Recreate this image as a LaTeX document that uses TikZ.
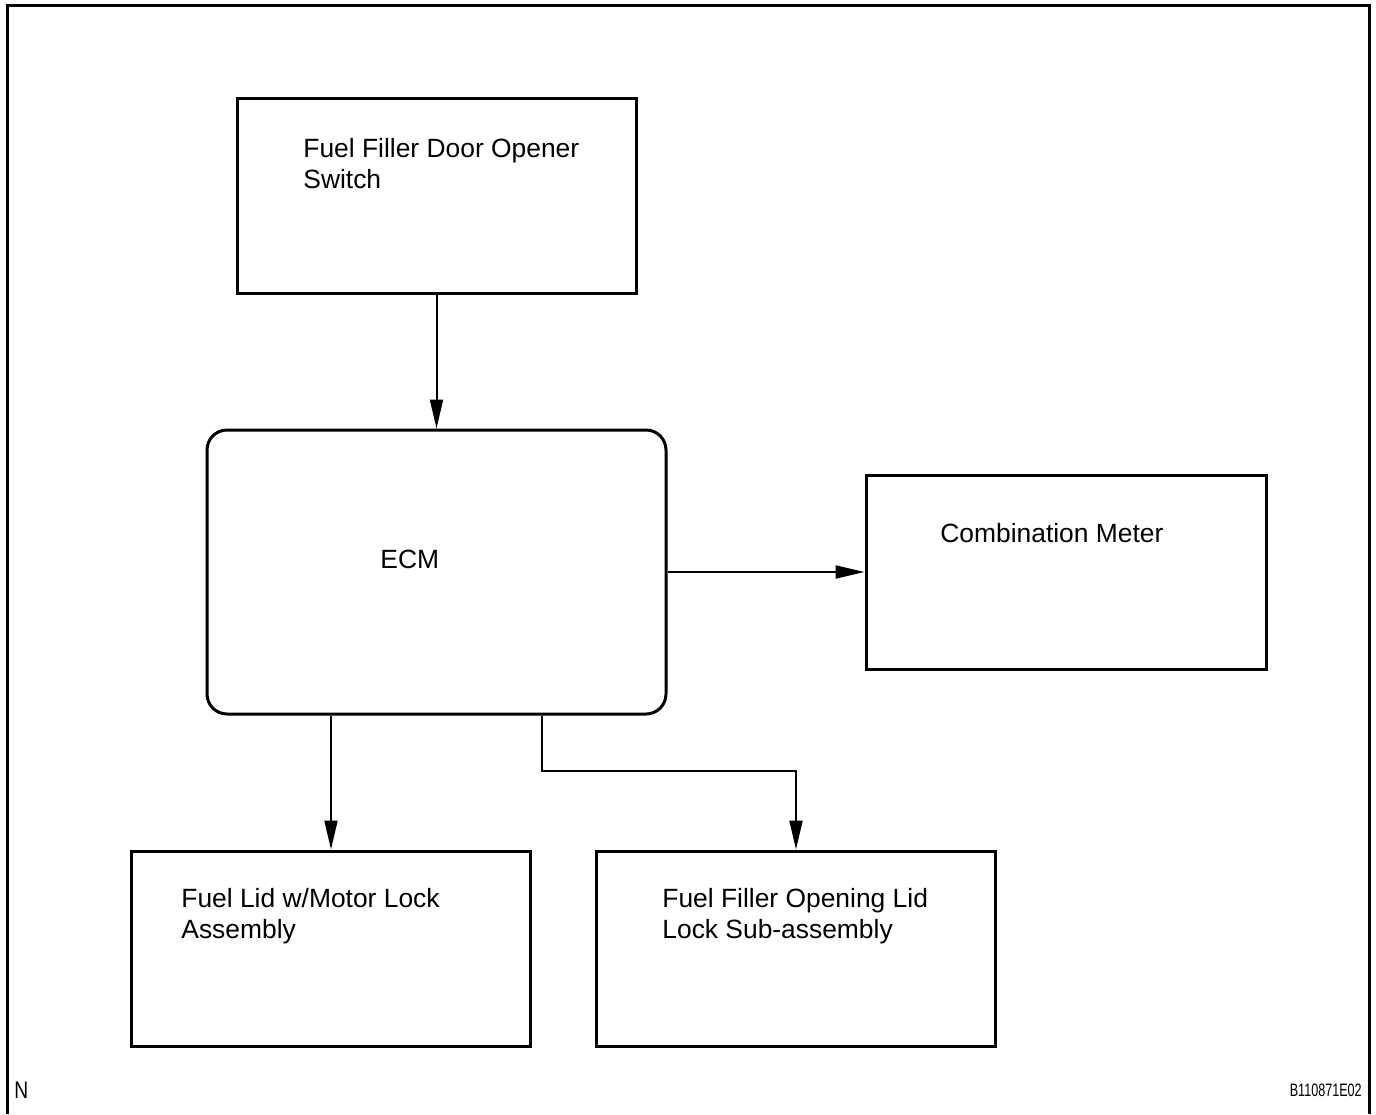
\documentclass[tikz,border=0pt]{standalone}
\usepackage{fontspec}
\setmainfont{Liberation Sans}
\usetikzlibrary{arrows.meta,positioning}
\begin{document}
\begin{tikzpicture}[x=0.5pt,y=-0.5pt,
    box/.style={draw, line width=1.5pt, inner sep=0pt, minimum width=199.5pt, minimum height=97.5pt},
    label/.style={anchor=north west, inner sep=0pt, align=left, font=\fontsize{13.2}{15.8}\selectfont},
    arrow/.style={-{Triangle[length=14.5pt,width=6.5pt]}, line width=1pt}]
    \useasboundingbox (0,0) rectangle (1376,1114);
    \draw[line width=1.5pt] (7,1114) -- (7,5) -- (1369,5) -- (1369,1114);
    % boxes
    \node[box] (switch) at (436.5,195.5) {};
    \node[box, rounded corners=10pt, minimum width=229.5pt, minimum height=142pt] (ecm) at (436.5,572) {};
    \node[box, minimum width=200pt, minimum height=97pt] (meter) at (1066,572) {};
    \node[box] (lid) at (331,948.5) {};
    \node[box] (opening) at (796,948.5) {};
    % texts
    \node[label] (switchtext) at (303,137.7) {Fuel Filler Door Opener\\Switch};
    \node[label, anchor=base west] (ecmtext) at (380,568) {ECM};
    \node[label, anchor=base west] (metertext) at (940,542) {Combination Meter};
    \node[label] (lidtext) at (181,887.7) {Fuel Lid w/Motor Lock\\Assembly};
    \node[label] (openingtext) at (662,887.7) {Fuel Filler Opening Lid\\Lock Sub-assembly};
    \node[label, anchor=base west, xscale=0.8, font=\fontsize{12}{14}\selectfont] (n) at (14,1098) {N};
    \node[anchor=base east, inner sep=0pt, font=\fontsize{9}{11}\selectfont, xscale=0.7] (code) at (1362,1096) {B110871E02};
    % connectors
    \coordinate (split) at (542,771);
    \draw[arrow] (switch.south) -- (ecm.north);
    \draw[arrow] (ecm.east) -- (meter.west);
    \draw[arrow] (lid.north |- ecm.south) -- (lid.north);
    \draw[arrow] (split |- ecm.south) -- (split) -| (opening.north);
\end{tikzpicture}
\end{document}
